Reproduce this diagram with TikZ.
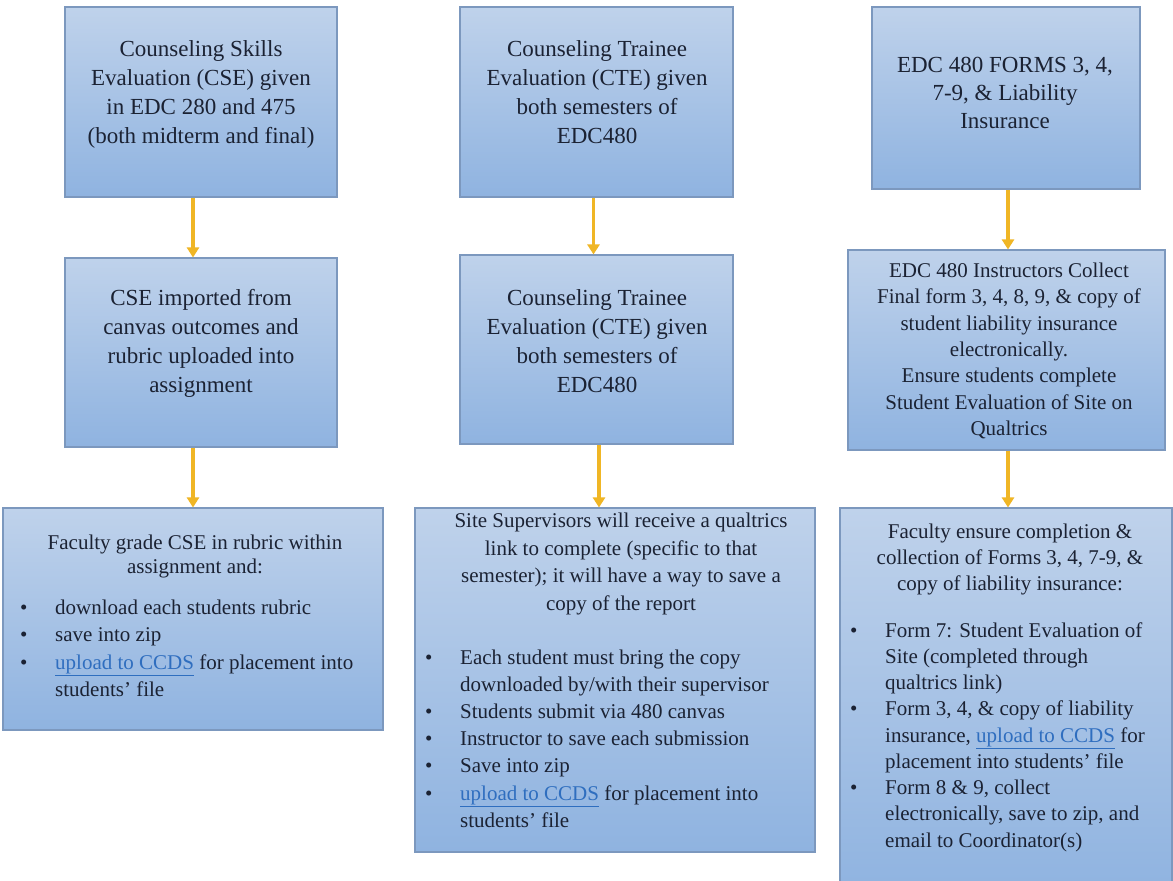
\documentclass[tikz,border=0pt]{standalone}
\usepackage{fontspec}
\setmainfont{LiberationSerif}[Extension=.ttf, UprightFont=*-Regular, BoldFont=*-Bold, ItalicFont=*-Italic, BoldItalicFont=*-BoldItalic]
\usetikzlibrary{arrows.meta}
\definecolor{boxtop}{HTML}{BFD2EB}
\definecolor{boxbot}{HTML}{8FB3E0}
\definecolor{boxline}{HTML}{7C98BE}
\definecolor{arrowgold}{HTML}{F0B625}
\definecolor{txt}{HTML}{1B2233}
\definecolor{linkblue}{HTML}{2F6EBF}
\newcommand\lnk[1]{\textcolor{linkblue}{\underline{#1}}}
\newcommand\bul{\makebox[35pt][l]{\textbullet}}
\newcommand\cont{\hspace*{35pt}}
\begin{document}
\begin{tikzpicture}[x=1pt,y=-1pt,
 box/.style={draw=boxline, line width=1.1pt, top color=boxtop, bottom color=boxbot, inner sep=0pt},
 arr/.style={draw=arrowgold, line width=3.5pt, -{Triangle[width=12pt,length=10pt]}},
 bigtext/.style={text=txt, align=center, inner sep=0pt, font=\fontsize{23}{29}\selectfont},
 smalltext/.style={text=txt, align=center, inner sep=0pt, font=\fontsize{21}{26.3}\selectfont},
 listtext/.style={text=txt, align=left, inner sep=0pt, anchor=west, font=\fontsize{21}{27.4}\selectfont}]
\useasboundingbox (0,0) rectangle (1173,881);
\fill[white] (0,0) rectangle (1173,881);
\clip (0,0) rectangle (1173,881);

% column 1
\node[box, minimum width=272pt, minimum height=190pt] (a1) at (201,102) {};
\node[box, minimum width=272pt, minimum height=189pt] (a2) at (201,352.5) {};
\node[box, minimum width=380pt, minimum height=222pt] (a3) at (193,619) {};
% column 2
\node[box, minimum width=273pt, minimum height=190pt] (b1) at (596.5,102) {};
\node[box, minimum width=273pt, minimum height=189pt] (b2) at (596.5,349.5) {};
\node[box, minimum width=400pt, minimum height=344pt] (b3) at (615,680) {};
% column 3
\node[box, minimum width=268pt, minimum height=182pt] (c1) at (1006,98) {};
\node[box, minimum width=317pt, minimum height=200pt] (c2) at (1006.5,350) {};
\node[box, minimum width=332pt, minimum height=387pt] (c3) at (1006,701.5) {};

% texts
\node[bigtext] (a1t) at (201,94) {Counseling Skills\\Evaluation (CSE) given\\in EDC 280 and 475\\(both midterm and final)};
\node[bigtext] (a2t) at (201,343.5) {CSE imported from\\canvas outcomes and\\rubric uploaded into\\assignment};
\node[smalltext, font=\fontsize{21}{24}\selectfont] (a3h) at (195,556) {Faculty grade CSE in rubric within\\assignment and:};
\node[listtext] (a3l) at (20,648.5) {\bul download each students rubric\\
\bul save into zip\\
\bul \lnk{upload to CCDS} for placement into\\
\cont students' file};

\node[bigtext] (b1t) at (597,92.5) {Counseling Trainee\\Evaluation (CTE) given\\both semesters of\\EDC480};
\node[bigtext] (b2t) at (597,341) {Counseling Trainee\\Evaluation (CTE) given\\both semesters of\\EDC480};
\node[smalltext, font=\fontsize{21}{27.7}\selectfont] (b3h) at (621,564) {Site Supervisors will receive a qualtrics\\link to complete (specific to that\\semester); it will have a way to save a\\copy of the report};
\node[listtext, font=\fontsize{21}{27.2}\selectfont] (b3l) at (425,738.5) {\bul Each student must bring the copy\\
\cont downloaded by/with their supervisor\\
\bul Students submit via 480 canvas\\
\bul Instructor to save each submission\\
\bul Save into zip\\
\bul \lnk{upload to CCDS} for placement into\\
\cont students' file};

\node[bigtext, font=\fontsize{23}{28}\selectfont] (c1t) at (1005,92.5) {EDC 480 FORMS 3, 4,\\7-9, \& Liability\\Insurance};
\node[smalltext] (c2t) at (1009,351) {EDC 480 Instructors Collect\\Final form 3, 4, 8, 9, \& copy of\\student liability insurance\\electronically.\\Ensure students complete\\Student Evaluation of Site on\\Qualtrics};
\node[smalltext, font=\fontsize{21}{26}\selectfont] (c3h) at (1010,559) {Faculty ensure completion \&\\collection of Forms 3, 4, 7-9, \&\\copy of liability insurance:};
\node[listtext, font=\fontsize{21}{26.25}\selectfont] (c3l) at (850,737) {\bul Form 7: Student Evaluation of\\
\cont Site (completed through\\
\cont qualtrics link)\\
\bul Form 3, 4, \& copy of liability\\
\cont insurance, \lnk{upload to CCDS} for\\
\cont placement into students' file\\
\bul Form 8 \& 9, collect\\
\cont electronically, save to zip, and\\
\cont email to Coordinator(s)};

% arrows
\draw[arr] ([xshift=-8pt]a1.south) -- ([xshift=-8pt]a2.north);
\draw[arr] ([xshift=-8pt]a2.south) -- (a3.north);
\draw[arr] ([xshift=-3pt]b1.south) -- ([xshift=-3pt]b2.north);
\path (b2.south) ++(2.5,0) coordinate (b2o);
\draw[arr] (b2o) -- (b2o |- b3.north);
\path (c1.south) ++(2,0) coordinate (c1o);
\draw[arr] (c1o) -- (c1o |- c2.north);
\path (c2.south) ++(1.5,0) coordinate (c2o);
\draw[arr] (c2o) -- (c2o |- c3.north);
\end{tikzpicture}
\end{document}
